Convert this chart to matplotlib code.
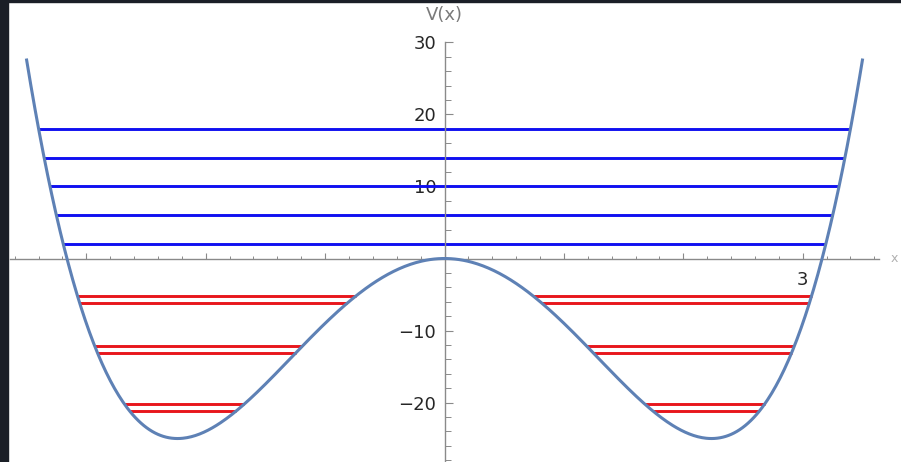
import numpy as np
import matplotlib.pyplot as plt
from matplotlib.patches import Rectangle
from matplotlib.ticker import FixedLocator

plt.rcParams['font.family'] = ['DejaVu Sans']

# double well V(x) = x^4 - 10 x^2, highest power first
v_coeffs = [1, 0, -10, 0, 0]
x_start, x_end = -3.5, 3.5

# energies above the barrier (blue) and split doublets inside the wells (red)
free_levels = [2, 6, 10, 14, 18]
bound_levels = [-5.2, -6.2, -12.2, -13.1, -20.2, -21.2]

x_tick_labels = ['', '', '', '', '', '', '3']
y_tick_values = [-20, -10, 10, 20, 30]
y_tick_labels = ['\u221220', '\u221210', '10', '20', '30']


def turning_points(energy):
    r = np.roots(np.polysub(v_coeffs, [energy]))
    r = r[np.abs(r.imag) < 1e-9].real
    return np.sort(r)


fig = plt.figure(figsize=(9.01, 4.62), dpi=100)
ax = fig.add_axes([0, 0, 1, 1])
ax.set_xlim(-3.723, 3.823)
ax.set_ylim(-28.26, 35.9)

xs = np.linspace(x_start, x_end, 600)
ax.plot(xs, np.polyval(v_coeffs, xs), color='#5E81B5', lw=2.2, zorder=3)

for e in free_levels:
    tp = turning_points(e)
    ax.plot([tp[0], tp[-1]], [e, e], color='#1010f0', lw=2.1, zorder=2,
            solid_capstyle='butt')

for e in bound_levels:
    tp = turning_points(e)
    for a, b in [(tp[0], tp[1]), (tp[2], tp[3])]:
        ax.plot([a, b], [e, e], color='#e8161c', lw=2.1, zorder=2,
                solid_capstyle='butt')

# axes crossing at the origin
axis_gray = '#8a8a8a'
for side in ['top', 'right']:
    ax.spines[side].set_visible(False)
ax.spines['left'].set_position(('data', 0))
ax.spines['bottom'].set_position(('data', 0))
ax.spines['left'].set_bounds(-28.3, 30)
ax.spines['bottom'].set_bounds(-3.639, 3.639)
for side in ['left', 'bottom']:
    ax.spines[side].set_color(axis_gray)
    ax.spines[side].set_linewidth(1.0)

ax.set_xticks(range(-3, 4), labels=x_tick_labels)
ax.xaxis.set_minor_locator(FixedLocator(np.round(np.arange(-3.6, 3.61, 0.2), 1)))
ax.set_yticks(y_tick_values, labels=y_tick_labels)
ax.yaxis.set_minor_locator(FixedLocator(np.arange(-28, 29, 2)))
ax.tick_params(axis='x', which='major', direction='in', length=4, width=0.8,
               color=axis_gray, pad=9, labelsize=13, labelcolor='#262626')
ax.tick_params(axis='x', which='minor', direction='in', length=2.5, width=0.7,
               color=axis_gray)
ax.tick_params(axis='y', which='major', direction='in', length=6, width=0.8,
               color=axis_gray, pad=6, labelsize=13, labelcolor='#262626')
ax.tick_params(axis='y', which='minor', direction='in', length=4, width=0.7,
               color=axis_gray)

ax.text(0, 33.8, 'V(x)', ha='center', va='center', fontsize=13, color='#7a7a7a')
ax.text(3.74, 0, 'x', ha='left', va='center', fontsize=9, color='#b0b0b0')

# dark frame strips along the left and top edges
fig.add_artist(Rectangle((0, 0), 8 / 901, 1, transform=fig.transFigure,
                         color='#1b1f27', zorder=10))
fig.add_artist(Rectangle((0, 1 - 2 / 462), 1, 2 / 462, transform=fig.transFigure,
                         color='#1b1f27', zorder=10))

fig.savefig('out.png', dpi=100)
